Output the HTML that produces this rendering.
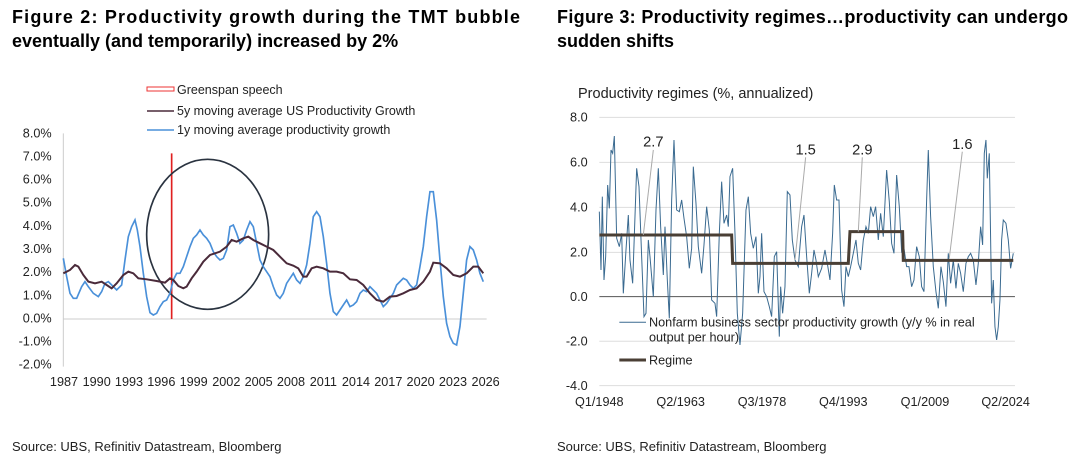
<!DOCTYPE html>
<html><head><meta charset="utf-8"><style>
body{margin:0;width:1080px;height:466px;background:#fff;overflow:hidden;font-family:"Liberation Sans",sans-serif;}
svg{position:absolute;left:0;top:0}
</style></head><body>
<svg width="1080" height="466" viewBox="0 0 1080 466" font-family="Liberation Sans, sans-serif">
<g font-weight="bold" font-size="18" fill="#000">
<text x="12" y="23" textLength="508" lengthAdjust="spacing">Figure 2: Productivity growth during the TMT bubble</text>
<text x="12" y="47">eventually (and temporarily) increased by 2%</text>
<text x="557" y="23" textLength="511" lengthAdjust="spacing">Figure 3: Productivity regimes…productivity can undergo</text>
<text x="557" y="47">sudden shifts</text>
</g>
<g font-size="13" fill="#222">
<text x="12" y="451">Source: UBS, Refinitiv Datastream, Bloomberg</text>
<text x="557" y="451">Source: UBS, Refinitiv Datastream, Bloomberg</text>
</g>
<rect x="147" y="87" width="27" height="4" fill="none" stroke="#e33" stroke-width="1"/>
<line x1="147" y1="111" x2="174" y2="111" stroke="#4a2a3a" stroke-width="1.5"/>
<line x1="147" y1="130" x2="174" y2="130" stroke="#4a90d9" stroke-width="1.5"/>
<g font-size="12.5" fill="#222">
<text x="177" y="94">Greenspan speech</text>
<text x="177" y="115">5y moving average US Productivity Growth</text>
<text x="177" y="134">1y moving average productivity growth</text>
</g>
<g transform="translate(0,120) scale(0.3333)">
<line x1="190" y1="40" x2="190" y2="740" stroke="#ccc" stroke-width="3"/>
<line x1="190" y1="597" x2="1460" y2="597" stroke="#ccc" stroke-width="3"/>
<g font-size="38" fill="#222" text-anchor="end">
<text x="155" y="53">8.0%</text><text x="155" y="122">7.0%</text><text x="155" y="191">6.0%</text><text x="155" y="260">5.0%</text><text x="155" y="330">4.0%</text><text x="155" y="399">3.0%</text><text x="155" y="468">2.0%</text><text x="155" y="538">1.0%</text><text x="155" y="607">0.0%</text><text x="155" y="676">-1.0%</text><text x="155" y="745">-2.0%</text>
</g>
<g font-size="38" fill="#222" text-anchor="middle">
<text x="192" y="798">1987</text><text x="290" y="798">1990</text><text x="387" y="798">1993</text><text x="484" y="798">1996</text><text x="581" y="798">1999</text><text x="679" y="798">2002</text><text x="776" y="798">2005</text><text x="873" y="798">2008</text><text x="970" y="798">2011</text><text x="1068" y="798">2014</text><text x="1165" y="798">2017</text><text x="1262" y="798">2020</text><text x="1359" y="798">2023</text><text x="1457" y="798">2026</text>
</g>
<line x1="515" y1="100" x2="515" y2="597" stroke="#e02020" stroke-width="5"/>
<ellipse cx="623" cy="343" rx="183" ry="225" fill="none" stroke="#2a3340" stroke-width="5"/>
<polyline fill="none" stroke="#4a90d9" stroke-width="5" points="190,415 200,470 210,520 220,535 230,535 245,500 255,485 265,500 280,520 295,530 305,515 315,490 325,485 340,500 350,510 365,495 375,420 385,350 395,320 405,300 412,330 420,380 430,460 440,530 450,578 460,585 470,580 480,560 490,545 500,540 510,520 520,480 530,460 540,460 550,440 560,410 570,380 580,355 590,345 600,330 610,345 620,355 630,370 640,395 650,410 660,420 670,415 680,390 690,320 700,315 710,340 720,370 730,360 740,330 750,305 760,320 770,370 780,420 790,440 800,455 810,470 820,500 830,525 840,535 850,520 860,490 870,475 880,460 890,480 900,490 910,470 920,435 930,370 940,290 950,275 960,290 970,350 980,430 990,520 1000,575 1010,585 1020,570 1030,555 1040,540 1050,560 1060,555 1070,545 1080,520 1090,510 1100,515 1110,500 1120,510 1130,520 1140,540 1150,560 1160,550 1170,535 1180,520 1190,495 1200,485 1210,475 1220,480 1230,495 1240,505 1250,495 1260,440 1270,380 1280,290 1290,215 1300,215 1310,300 1320,420 1330,530 1340,610 1350,650 1360,670 1370,675 1380,620 1390,520 1400,420 1410,380 1420,390 1430,420 1440,460 1450,485"/>
<polyline fill="none" stroke="#4a2a3a" stroke-width="6" points="190,460 210,450 225,435 235,440 250,465 265,485 285,490 305,485 320,495 335,505 350,490 370,465 385,455 400,460 415,475 440,478 470,483 495,488 510,475 520,480 535,498 550,505 560,500 575,475 590,455 610,425 630,405 660,395 680,380 695,360 710,365 730,355 745,350 760,360 780,370 800,380 820,390 840,410 860,430 880,437 895,445 910,470 920,470 935,445 950,440 970,445 990,455 1010,455 1030,460 1050,478 1070,480 1090,495 1110,520 1130,540 1150,545 1170,530 1190,528 1210,520 1230,510 1250,505 1270,485 1290,455 1300,428 1320,430 1340,445 1360,465 1380,470 1400,460 1420,440 1435,440 1450,460"/>
</g>
<text x="578" y="98" font-size="14.5" fill="#222">Productivity regimes (%, annualized)</text>
<g transform="translate(540,100) scale(0.3333)">
<g stroke="#ddd" stroke-width="3">
<line x1="178" y1="52" x2="1425" y2="52"/><line x1="178" y1="187" x2="1425" y2="187"/><line x1="178" y1="322" x2="1425" y2="322"/><line x1="178" y1="457" x2="1425" y2="457"/><line x1="178" y1="724" x2="1425" y2="724"/><line x1="178" y1="857" x2="1425" y2="857"/>
</g>
<line x1="178" y1="590" x2="1425" y2="590" stroke="#555" stroke-width="3"/>
<g font-size="38" fill="#222" text-anchor="end">
<text x="143" y="65">8.0</text><text x="143" y="200">6.0</text><text x="143" y="335">4.0</text><text x="143" y="470">2.0</text><text x="143" y="603">0.0</text><text x="143" y="737">-2.0</text><text x="143" y="870">-4.0</text>
</g>
<g font-size="38" fill="#222" text-anchor="middle">
<text x="178" y="918">Q1/1948</text><text x="422" y="918">Q2/1963</text><text x="666" y="918">Q3/1978</text><text x="910" y="918">Q4/1993</text><text x="1155" y="918">Q1/2009</text><text x="1397" y="918">Q2/2024</text>
</g>
<polyline fill="none" stroke="#3a6a90" stroke-width="3" points="178,335 183,510 187,290 192,540 197,470 203,255 208,325 213,150 218,160 223,108 230,415 238,440 245,400 250,580 258,450 265,345 270,480 278,550 290,205 297,260 305,470 312,650 318,640 325,420 330,470 340,590 348,330 355,205 362,380 370,525 375,380 382,540 388,655 395,300 402,120 410,330 418,335 425,300 432,355 440,410 448,505 455,445 460,200 468,310 475,440 485,520 492,435 500,320 508,390 515,600 525,610 530,650 538,400 545,245 552,370 560,345 565,380 570,230 578,205 585,400 592,640 600,735 608,640 618,330 625,290 632,400 640,445 648,410 655,580 660,530 665,400 672,575 680,590 688,620 695,650 703,470 710,455 718,710 722,560 728,640 735,560 742,275 750,285 757,420 765,480 775,500 785,380 792,345 800,470 808,580 815,520 822,450 828,480 835,530 845,505 855,450 862,490 870,540 878,400 883,255 890,300 897,300 905,570 912,620 918,500 925,530 932,500 940,460 948,420 955,490 962,510 970,420 978,380 985,400 992,320 1000,350 1007,320 1015,420 1022,340 1030,410 1040,210 1048,305 1055,430 1062,460 1070,225 1078,320 1085,455 1092,445 1100,500 1107,500 1115,560 1122,540 1130,440 1138,470 1145,560 1152,575 1160,300 1165,150 1172,350 1180,500 1188,575 1195,625 1203,500 1210,545 1218,620 1225,460 1232,550 1240,480 1248,565 1255,490 1262,520 1270,575 1278,490 1285,470 1292,460 1300,480 1308,555 1315,490 1322,380 1328,435 1333,160 1338,120 1342,235 1348,160 1355,610 1360,540 1365,680 1370,720 1375,680 1380,600 1385,420 1390,360 1398,370 1405,420 1412,505 1420,460"/>
<polyline fill="none" stroke="#4a3f35" stroke-width="9" points="178,405 575,405 578,490 925,490 930,395 1088,395 1090,481 1420,481"/>
<g stroke="#aaa" stroke-width="3">
<line x1="340" y1="150" x2="310" y2="405"/><line x1="797" y1="172" x2="765" y2="480"/><line x1="967" y1="172" x2="955" y2="395"/><line x1="1267" y1="155" x2="1228" y2="475"/>
</g>
<g font-size="44" fill="#222" text-anchor="middle">
<text x="340" y="140">2.7</text><text x="797" y="163">1.5</text><text x="967" y="163">2.9</text><text x="1267" y="147">1.6</text>
</g>
<line x1="238" y1="667" x2="318" y2="667" stroke="#3a6a90" stroke-width="3"/>
<line x1="238" y1="780" x2="318" y2="780" stroke="#4a3f35" stroke-width="9"/>
<g font-size="38" fill="#222">
<text x="327" y="680">Nonfarm business sector productivity growth (y/y % in real</text>
<text x="327" y="724">output per hour)</text>
<text x="327" y="793">Regime</text>
</g>
</g>
</svg>
</body></html>
